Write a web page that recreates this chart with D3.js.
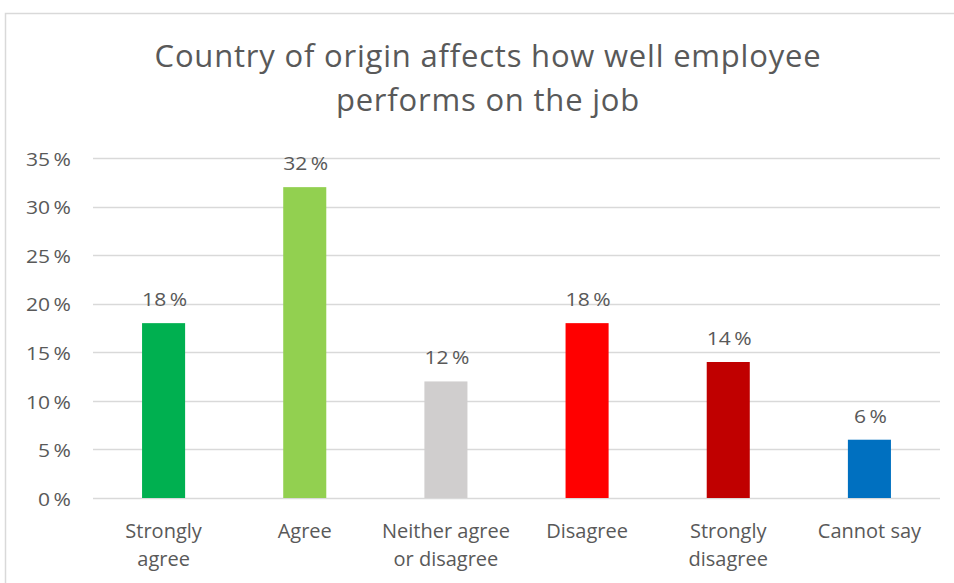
<!DOCTYPE html>
<html>
<head>
<meta charset="utf-8">
<script src="https://cdn.jsdelivr.net/npm/d3@7"></script>
<style>
  html, body { margin: 0; padding: 0; background: #fff; }
  svg { display: block; }
  text { font-family: "Open Sans", Lato, sans-serif; fill: #595959; }
</style>
</head>
<body>
<svg id="chart" width="954" height="583"></svg>
<script>
// Survey answers: "Country of origin affects how well employee performs on the job"
const categories = [
  ["Strongly", "agree"],
  ["Agree"],
  ["Neither agree", "or disagree"],
  ["Disagree"],
  ["Strongly", "disagree"],
  ["Cannot say"]
];
const values = [18, 32, 12, 18, 14, 6];
const colors = ["#00b050", "#92d050", "#d0cece", "#ff0000", "#c00000", "#0070c0"];
const yTicks = [0, 5, 10, 15, 20, 25, 30, 35];
const titleLines = ["Country of origin affects how well employee", "performs on the job"];

const svg = d3.select("#chart");
const W = 954, H = 583;

// outer frame of the chart area
svg.append("rect")
  .attr("x", 5.5).attr("y", 13.5)
  .attr("width", 1000).attr("height", 1000)
  .attr("fill", "none").attr("stroke", "#d9d9d9").attr("stroke-width", 1.5);

const plot = { left: 93, right: 940, top: 158, bottom: 498 };

const x = d3.scaleBand()
  .domain(d3.range(values.length))
  .range([plot.left, plot.right])
  .paddingInner(0.695)
  .paddingOuter(0.3475);

const y = d3.scaleLinear()
  .domain([0, 35])
  .range([plot.bottom, plot.top]);

// number, narrow gap, percent sign
const pct = d => d + "\u2009%";

// title
svg.append("text")
  .attr("text-anchor", "middle")
  .style("font-size", "31px")
  .style("letter-spacing", "0.8px")
  .selectAll("tspan")
  .data(titleLines)
  .join("tspan")
  .attr("x", 488)
  .attr("y", (d, i) => 67 + i * 44)
  .text(d => d);

// horizontal gridlines
svg.append("g")
  .selectAll("line")
  .data(yTicks)
  .join("line")
  .attr("x1", plot.left).attr("x2", plot.right)
  .attr("y1", d => Math.round(y(d)) + 0.5)
  .attr("y2", d => Math.round(y(d)) + 0.5)
  .attr("stroke", "#d9d9d9").attr("stroke-width", 1.5);

// y axis labels (slightly widened glyphs)
const yAxis = d3.axisLeft(y)
  .tickValues(yTicks)
  .tickSize(0)
  .tickPadding(0)
  .tickFormat(pct);
const gy = svg.append("g")
  .attr("transform", `translate(${plot.left - 22},0)`)
  .call(yAxis);
gy.select(".domain").remove();
gy.selectAll("text")
  .attr("x", 0)
  .attr("dy", "0.4em")
  .attr("transform", "scale(1.17,1)")
  .style("font-size", "18px")
  .attr("fill", "#595959")
  .attr("font-family", "'Open Sans', Lato, sans-serif");

// bars
svg.append("g")
  .selectAll("rect")
  .data(values)
  .join("rect")
  .attr("x", (d, i) => x(i))
  .attr("y", d => y(d))
  .attr("width", x.bandwidth())
  .attr("height", d => y(0) - y(d))
  .attr("fill", (d, i) => colors[i]);

// value labels
svg.append("g")
  .selectAll("g")
  .data(values)
  .join("g")
  .attr("transform", (d, i) => `translate(${x(i) + x.bandwidth() / 2 + 1},${y(d) - 17})`)
  .append("text")
  .attr("transform", "scale(1.17,1)")
  .attr("text-anchor", "middle")
  .style("font-size", "18px")
  .text(pct);

// category labels
const cat = svg.append("g")
  .selectAll("text")
  .data(categories)
  .join("text")
  .attr("text-anchor", "middle")
  .style("font-size", "20px");
cat.selectAll("tspan")
  .data((d, i) => d.map(t => ({ t, i })))
  .join("tspan")
  .attr("x", d => x(d.i) + x.bandwidth() / 2)
  .attr("y", (d, j) => 538 + j * 28)
  .text(d => d.t);
</script>
</body>
</html>
